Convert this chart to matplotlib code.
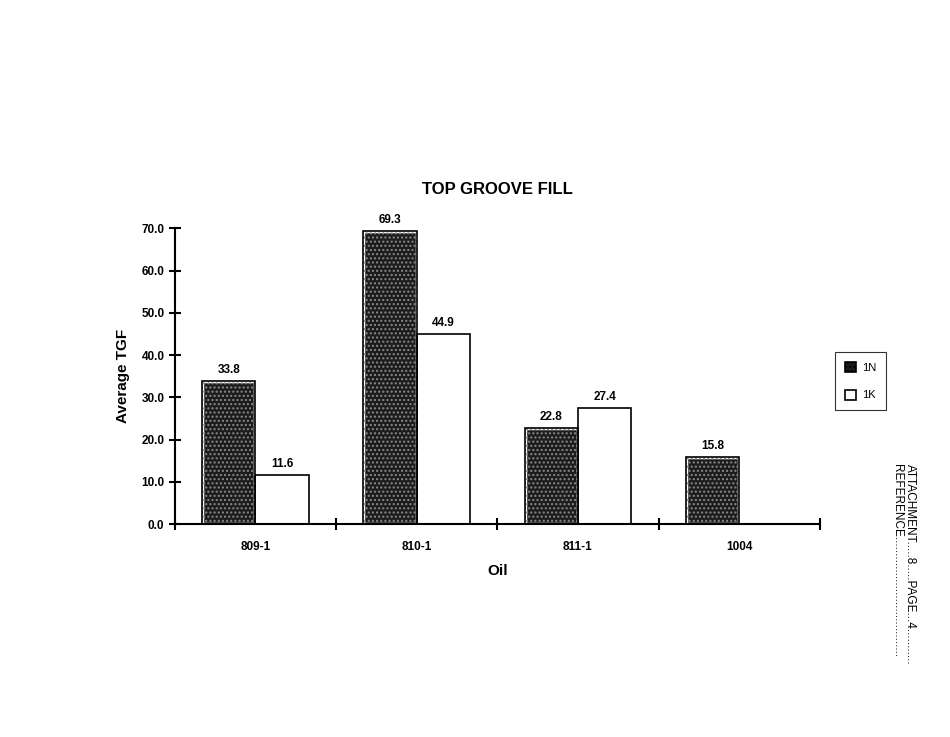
import numpy as np
import matplotlib.pyplot as plt
from matplotlib.patches import Patch

plt.rcParams['font.family'] = ['Liberation Sans', 'DejaVu Sans']

oils = ['809-1', '810-1', '811-1', '1004']
tgf_1n = [33.8, 69.3, 22.8, 15.8]
tgf_1k = [11.6, 44.9, 27.4, None]

fig = plt.figure(figsize=(9.5, 7.37), dpi=100)
ax = fig.add_axes([0.184, 0.289, 0.679, 0.401])

x = np.arange(len(oils))
w = 0.33

# 1N bars: dark fill with speckle, double outline
ax.bar(x - w / 2, tgf_1n, w, color='#1c1c1c', edgecolor='white', linewidth=2.5, zorder=2)
ax.bar(x - w / 2, tgf_1n, w, fill=False, hatch='....', edgecolor='#8a8a8a', linewidth=0, zorder=3)
ax.bar(x - w / 2, tgf_1n, w, fill=False, edgecolor='black', linewidth=1.2, zorder=4)

k_x = [xi + w / 2 for xi, v in zip(x, tgf_1k) if v is not None]
k_v = [v for v in tgf_1k if v is not None]
ax.bar(k_x, k_v, w, color='white', edgecolor='black', linewidth=1.2, zorder=2)

for xi, v in zip(x, tgf_1n):
    ax.text(xi - w / 2, v + 1.2, f'{v:.1f}', ha='center', va='bottom', fontsize=8.5, fontweight='bold')
for xi, v in zip(k_x, k_v):
    ax.text(xi, v + 1.2, f'{v:.1f}', ha='center', va='bottom', fontsize=8.5, fontweight='bold')

ax.set_xlim(-0.5, 3.5)
ax.set_ylim(0, 70)
ax.set_yticks(np.arange(0, 71, 10))
ax.set_yticklabels([f'{t:.1f}' for t in np.arange(0, 71, 10)], fontsize=8.5, fontweight='bold')
ax.set_xticks(x)
ax.set_xticklabels(oils, fontsize=8.5, fontweight='bold')
ax.tick_params(axis='x', length=0, pad=12)
ax.set_xticks(np.arange(-0.5, 3.6, 1), minor=True)
ax.tick_params(axis='x', which='minor', direction='inout', length=9, width=1.5)
ax.tick_params(axis='y', direction='inout', length=8, width=1.5)

for s in ['top', 'right']:
    ax.spines[s].set_visible(False)
ax.spines['left'].set_linewidth(1.5)
ax.spines['bottom'].set_linewidth(1.5)

ax.set_xlabel('Oil', fontsize=11, fontweight='bold', labelpad=8)
ax.set_ylabel('Average TGF', fontsize=11, fontweight='bold', labelpad=8)
ax.set_title('TOP GROOVE FILL', fontsize=12, fontweight='bold', pad=25)

handles = [Patch(facecolor='#1c1c1c', edgecolor='black', hatch='....', linewidth=1.2),
           Patch(facecolor='white', edgecolor='black', linewidth=1.2)]
leg = ax.legend(handles=handles, labels=['1N', '1K'],
                loc='upper left', bbox_to_anchor=(1.015, 0.6), fontsize=8,
                frameon=True, fancybox=False, edgecolor='black', handlelength=1.0,
                handleheight=1.0, handletextpad=0.5, borderpad=0.9, labelspacing=1.5)
leg.get_frame().set_linewidth(0.8)

fig.text(0.958, 0.37, 'ATTACHMENT.....8.....PAGE...4...........', rotation=-90,
         ha='center', va='top', fontsize=8.5)
fig.text(0.944, 0.37, 'REFERENCE.....................................', rotation=-90,
         ha='center', va='top', fontsize=8.5)

fig.savefig('out.png', dpi=100, facecolor='white')
